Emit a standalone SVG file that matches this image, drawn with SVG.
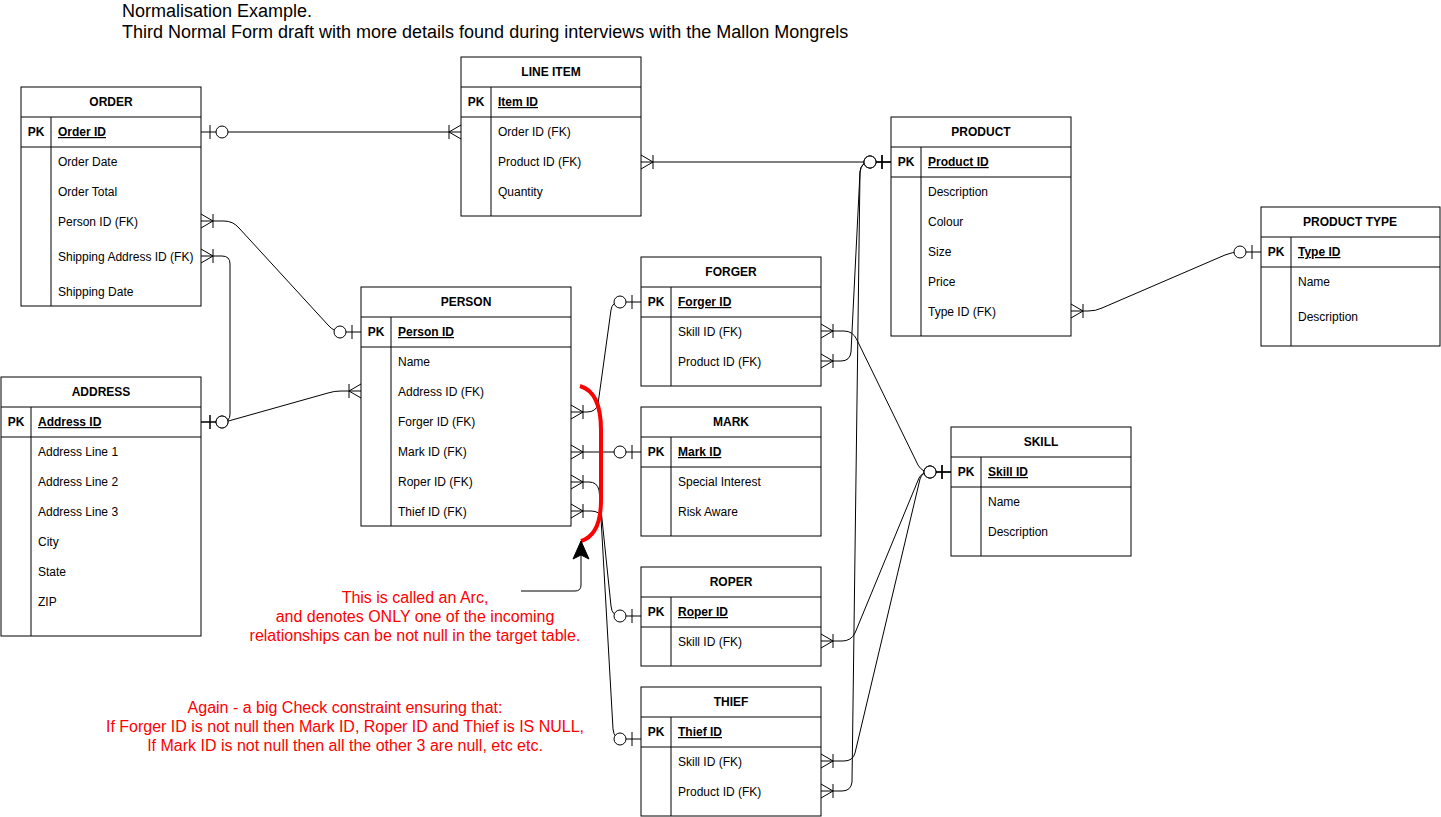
<svg xmlns="http://www.w3.org/2000/svg" width="1441" height="817" viewBox="0 0 1441 817">
<style>
text{font-family:"Liberation Sans",Arial,Helvetica,sans-serif;fill:#000}
.tb rect{fill:#fff;stroke:#000;stroke-width:1}
.tb line{stroke:#000;stroke-width:1}
.h{font-size:12px;font-weight:bold;text-anchor:middle}
.pk{font-size:12px;font-weight:bold;text-anchor:middle}
.k{font-size:12px;font-weight:bold;text-decoration:underline}
.f{font-size:12px}
.title{font-size:18px}
.note{font-size:16px;fill:#ff0000;text-anchor:middle}
.c path{fill:none;stroke:#000;stroke-width:1;marker-start:url(#zeroOne);marker-end:url(#oneMany)}
</style>
<defs>
<marker id="zeroOne" markerUnits="userSpaceOnUse" orient="auto-start-reverse" refX="0" refY="0" viewBox="-30 -10 32 20" markerWidth="32" markerHeight="20" overflow="visible">
<line x1="-9" y1="-7" x2="-9" y2="7" stroke="#000" stroke-width="1"/>
<circle cx="-21" cy="0" r="6" fill="#fff" stroke="#000" stroke-width="1"/>
</marker>
<marker id="oneMany" markerUnits="userSpaceOnUse" orient="auto-start-reverse" refX="0" refY="0" viewBox="-20 -10 22 20" markerWidth="22" markerHeight="20" overflow="visible">
<path d="M0,-7 L-12,0 L0,7 M-12,-7 L-12,7" fill="none" stroke="#000" stroke-width="1"/>
</marker>
<marker id="arrow" markerUnits="userSpaceOnUse" orient="auto" refX="0" refY="0" viewBox="-20 -10 22 20" markerWidth="22" markerHeight="20" overflow="visible">
<path d="M0,0 L-18,-8 L-14,0 L-18,8 Z" fill="#000" stroke="#000" stroke-width="1"/>
</marker>
</defs>
<rect x="0" y="0" width="1441" height="817" fill="#fff"/>

<g id="title">
<text class="title" x="122" y="17">Normalisation Example.</text>
<text class="title" x="122" y="38">Third Normal Form draft with more details found during interviews with the Mallon Mongrels</text>
</g>

<g id="order" class="tb">
<rect x="21" y="87" width="180" height="219"/>
<line x1="21" y1="117" x2="201" y2="117"/>
<line x1="21" y1="147" x2="201" y2="147"/>
<line x1="51" y1="117" x2="51" y2="306"/>
<text class="h" x="111" y="106">ORDER</text>
<text class="pk" x="36" y="136">PK</text>
<text class="k" x="58" y="136">Order ID</text>
<text class="f" x="58" y="166">Order Date</text>
<text class="f" x="58" y="196">Order Total</text>
<text class="f" x="58" y="226">Person ID (FK)</text>
<text class="f" x="58" y="261">Shipping Address ID (FK)</text>
<text class="f" x="58" y="296">Shipping Date</text>
</g>

<g id="line-item" class="tb">
<rect x="461" y="57" width="180" height="159"/>
<line x1="461" y1="87" x2="641" y2="87"/>
<line x1="461" y1="117" x2="641" y2="117"/>
<line x1="491" y1="87" x2="491" y2="216"/>
<text class="h" x="551" y="76">LINE ITEM</text>
<text class="pk" x="476" y="106">PK</text>
<text class="k" x="498" y="106">Item ID</text>
<text class="f" x="498" y="136">Order ID (FK)</text>
<text class="f" x="498" y="166">Product ID (FK)</text>
<text class="f" x="498" y="196">Quantity</text>
</g>

<g id="product" class="tb">
<rect x="891" y="117" width="180" height="219"/>
<line x1="891" y1="147" x2="1071" y2="147"/>
<line x1="891" y1="177" x2="1071" y2="177"/>
<line x1="921" y1="147" x2="921" y2="336"/>
<text class="h" x="981" y="136">PRODUCT</text>
<text class="pk" x="906" y="166">PK</text>
<text class="k" x="928" y="166">Product ID</text>
<text class="f" x="928" y="196">Description</text>
<text class="f" x="928" y="226">Colour</text>
<text class="f" x="928" y="256">Size</text>
<text class="f" x="928" y="286">Price</text>
<text class="f" x="928" y="316">Type ID (FK)</text>
</g>

<g id="product-type" class="tb">
<rect x="1261" y="207" width="179" height="139"/>
<line x1="1261" y1="237" x2="1440" y2="237"/>
<line x1="1261" y1="267" x2="1440" y2="267"/>
<line x1="1291" y1="237" x2="1291" y2="346"/>
<text class="h" x="1350" y="226">PRODUCT TYPE</text>
<text class="pk" x="1276" y="256">PK</text>
<text class="k" x="1298" y="256">Type ID</text>
<text class="f" x="1298" y="286">Name</text>
<text class="f" x="1298" y="321">Description</text>
</g>

<g id="person" class="tb">
<rect x="361" y="287" width="210" height="239"/>
<line x1="361" y1="317" x2="571" y2="317"/>
<line x1="361" y1="347" x2="571" y2="347"/>
<line x1="391" y1="317" x2="391" y2="526"/>
<text class="h" x="466" y="306">PERSON</text>
<text class="pk" x="376" y="336">PK</text>
<text class="k" x="398" y="336">Person ID</text>
<text class="f" x="398" y="366">Name</text>
<text class="f" x="398" y="396">Address ID (FK)</text>
<text class="f" x="398" y="426">Forger ID (FK)</text>
<text class="f" x="398" y="456">Mark ID (FK)</text>
<text class="f" x="398" y="486">Roper ID (FK)</text>
<text class="f" x="398" y="516">Thief ID (FK)</text>
</g>

<g id="address" class="tb">
<rect x="1" y="377" width="200" height="259"/>
<line x1="1" y1="407" x2="201" y2="407"/>
<line x1="1" y1="437" x2="201" y2="437"/>
<line x1="31" y1="407" x2="31" y2="636"/>
<text class="h" x="101" y="396">ADDRESS</text>
<text class="pk" x="16" y="426">PK</text>
<text class="k" x="38" y="426">Address ID</text>
<text class="f" x="38" y="456">Address Line 1</text>
<text class="f" x="38" y="486">Address Line 2</text>
<text class="f" x="38" y="516">Address Line 3</text>
<text class="f" x="38" y="546">City</text>
<text class="f" x="38" y="576">State</text>
<text class="f" x="38" y="606">ZIP</text>
</g>

<g id="forger" class="tb">
<rect x="641" y="257" width="180" height="129"/>
<line x1="641" y1="287" x2="821" y2="287"/>
<line x1="641" y1="317" x2="821" y2="317"/>
<line x1="671" y1="287" x2="671" y2="386"/>
<text class="h" x="731" y="276">FORGER</text>
<text class="pk" x="656" y="306">PK</text>
<text class="k" x="678" y="306">Forger ID</text>
<text class="f" x="678" y="336">Skill ID (FK)</text>
<text class="f" x="678" y="366">Product ID (FK)</text>
</g>

<g id="mark" class="tb">
<rect x="641" y="407" width="180" height="129"/>
<line x1="641" y1="437" x2="821" y2="437"/>
<line x1="641" y1="467" x2="821" y2="467"/>
<line x1="671" y1="437" x2="671" y2="536"/>
<text class="h" x="731" y="426">MARK</text>
<text class="pk" x="656" y="456">PK</text>
<text class="k" x="678" y="456">Mark ID</text>
<text class="f" x="678" y="486">Special Interest</text>
<text class="f" x="678" y="516">Risk Aware</text>
</g>

<g id="roper" class="tb">
<rect x="641" y="567" width="180" height="99"/>
<line x1="641" y1="597" x2="821" y2="597"/>
<line x1="641" y1="627" x2="821" y2="627"/>
<line x1="671" y1="597" x2="671" y2="666"/>
<text class="h" x="731" y="586">ROPER</text>
<text class="pk" x="656" y="616">PK</text>
<text class="k" x="678" y="616">Roper ID</text>
<text class="f" x="678" y="646">Skill ID (FK)</text>
</g>

<g id="thief" class="tb">
<rect x="641" y="687" width="180" height="129"/>
<line x1="641" y1="717" x2="821" y2="717"/>
<line x1="641" y1="747" x2="821" y2="747"/>
<line x1="671" y1="717" x2="671" y2="816"/>
<text class="h" x="731" y="706">THIEF</text>
<text class="pk" x="656" y="736">PK</text>
<text class="k" x="678" y="736">Thief ID</text>
<text class="f" x="678" y="766">Skill ID (FK)</text>
<text class="f" x="678" y="796">Product ID (FK)</text>
</g>

<g id="skill" class="tb">
<rect x="951" y="427" width="180" height="129"/>
<line x1="951" y1="457" x2="1131" y2="457"/>
<line x1="951" y1="487" x2="1131" y2="487"/>
<line x1="981" y1="457" x2="981" y2="556"/>
<text class="h" x="1041" y="446">SKILL</text>
<text class="pk" x="966" y="476">PK</text>
<text class="k" x="988" y="476">Skill ID</text>
<text class="f" x="988" y="506">Name</text>
<text class="f" x="988" y="536">Description</text>
</g>

<g id="connectors" class="c">
<path d="M201,132 L461,132"/>
<path d="M361,332 L342,332 Q334,332 328,325 L239,228 Q233,221 224,221 L201,221"/>
<path d="M201,422 L222,422 Q230,422 230,414 L230,264 Q230,256 222,256 L201,256"/>
<path d="M201,422 L222,422 Q226,422 232,420 L328,393 Q334,391 341,391 L361,391"/>
<path d="M891,162 L641,162"/>
<path d="M891,162 L870,162 Q861,162 860,172 L851,352 Q850,361 841,361 L821,361"/>
<path d="M891,162 L870,162 Q861,162 860,172 L852,782 Q851,791 842,791 L821,791"/>
<path d="M951,472 L930,472 Q922,472 918,465 L857,340 Q853,331 844,331 L821,331"/>
<path d="M951,472 L930,472 Q922,472 919,478 L855,633 Q851,641 842,641 L821,641"/>
<path d="M951,472 L930,472 Q922,472 920,479 L855,753 Q853,761 844,761 L821,761"/>
<path d="M1261,252 L1240,252 Q1232,252 1225,255 L1102,308 Q1096,311 1088,311 L1071,311"/>
<path d="M641,302 L620,302 Q612,302 611,310 L598,404 Q596,412 587,412 L571,412"/>
<path d="M641,452 L571,452"/>
<path d="M641,616 L620,616 Q612,616 611,606 L599,490 Q597,482 589,482 L571,482"/>
<path d="M641,739 L622,739 Q614,739 613,729 L601,518 Q600,511 591,511 L571,511"/>
</g>

<g id="arc-note">
<path d="M580,386 Q601,392 601,430 L601,500 Q601,535 581,541" fill="none" stroke="#ff0000" stroke-width="4"/>
<path d="M521,591 L575,591 Q581,591 581,585 L581,541" fill="none" stroke="#000" stroke-width="1" marker-end="url(#arrow)"/>
<text class="note" x="415" y="603">This is called an Arc,</text>
<text class="note" x="415" y="622">and denotes ONLY one of the incoming</text>
<text class="note" x="415" y="641">relationships can be not null in the target table.</text>
</g>

<g id="check-note">
<text class="note" x="345" y="713">Again - a big Check constraint ensuring that:</text>
<text class="note" x="345" y="732">If Forger ID is not null then Mark ID, Roper ID and Thief is IS NULL,</text>
<text class="note" x="345" y="751">If Mark ID is not null then all the other 3 are null, etc etc.</text>
</g>
</svg>
